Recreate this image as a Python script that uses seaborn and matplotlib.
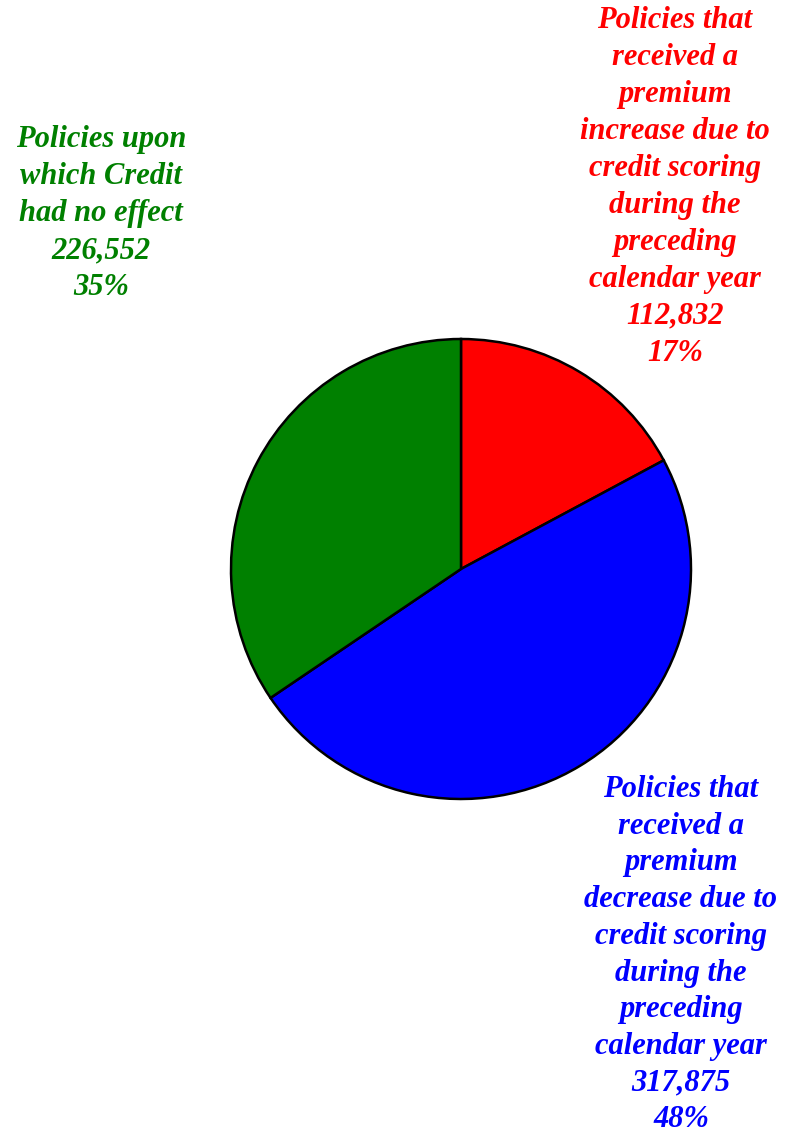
import matplotlib
matplotlib.use("Agg")
import matplotlib.pyplot as plt
import seaborn as sns

categories = [
    "Policies that\nreceived a\npremium\nincrease due to\ncredit scoring\nduring the\npreceding\ncalendar year",
    "Policies that\nreceived a\npremium\ndecrease due to\ncredit scoring\nduring the\npreceding\ncalendar year",
    "Policies upon\nwhich Credit\nhad no effect",
]
values = [112832, 317875, 226552]
percents = ["17%", "48%", "35%"]
colors = ["#ff0000", "#0000ff", "#008000"]

sns.set_theme(style="white")
plt.rcParams['font.family'] = ['Liberation Serif', 'DejaVu Serif']

fig = plt.figure(figsize=(7.87, 11.37), dpi=100)
ax = fig.add_axes([231/787, (1137-799)/1137, 460/787, 460/1137])
ax.pie(values, colors=colors, startangle=90, counterclock=False,
       wedgeprops=dict(edgecolor="black", linewidth=1.8), radius=1.0)
ax.set_xlim(-1.0, 1.0)
ax.set_ylim(-1.0, 1.0)
ax.set_aspect("equal")
ax.axis("off")

label_pos = [(675/787, 1 - 6.5/1137), (681/787, 1 - 775/1137), (101/787, 1 - 125.5/1137)]
spacings = [1.36, 1.35, 1.36]
for cat, v, p, c, (x, y), ls in zip(categories, values, percents, colors, label_pos, spacings):
    fig.text(x, y, f"{cat}\n{v:,}\n{p}", ha="center", va="top", color=c,
             fontsize=22, fontweight="bold", fontstyle="italic",
             linespacing=ls)

fig.savefig("out.png", dpi=100, facecolor="white")
